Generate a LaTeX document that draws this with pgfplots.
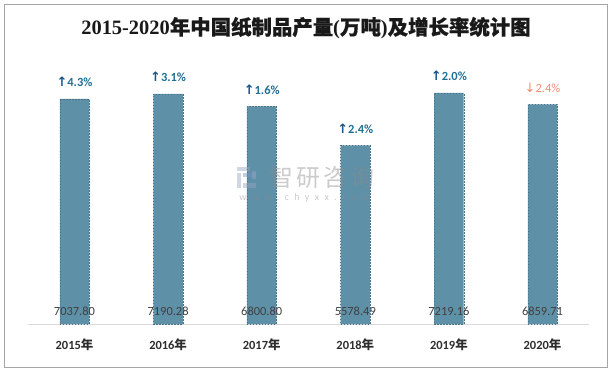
\documentclass[border=0pt]{standalone}
\usepackage{fontspec}
\usepackage{pgfplots}
\pgfplotsset{compat=1.18}
\setmainfont{Carlito}
\newfontfamily\cjk{Noto Sans CJK SC}
\newfontfamily\cjkt{Noto Sans CJK SC}[FakeBold=0.7]
\newfontfamily\serifcn{Liberation Serif}
\newfontfamily\sym{DejaVu Sans}
\definecolor{barc}{RGB}{94,144,167}
\definecolor{upc}{RGB}{31,111,150}
\definecolor{uparrow}{RGB}{25,85,135}
\definecolor{downc}{RGB}{240,140,112}
\definecolor{valc}{RGB}{64,64,64}
\definecolor{tickc}{RGB}{45,45,45}
\definecolor{titlec}{RGB}{25,25,25}
\definecolor{borderc}{RGB}{165,165,165}
\definecolor{basec}{RGB}{217,217,217}
\definecolor{wmA}{RGB}{150,165,190}
\definecolor{wmB}{RGB}{120,150,200}
\definecolor{wmT}{RGB}{140,140,140}
\begin{document}
\begin{tikzpicture}[x=1bp,y=1bp]
\path (0,0) rectangle (612,372);
\draw[draw=borderc, line width=1bp] (4.5,367.5) rectangle (607.5,5);
\node[font=\fontsize{20.5}{22}\selectfont, text=titlec] at (306,344) {\serifcn\bfseries 2015-2020{\cjkt 年中国纸制品产量}({\cjkt 万吨}){\cjkt 及增长率统计图}};
\begin{axis}[
  at={(27.7bp,48bp)}, anchor=south west,
  scale only axis, width=561.6bp, height=256bp,
  xmin=-0.5, xmax=5.5, ymin=0, ymax=8000,
  axis y line=none,
  axis x line*=bottom,
  x axis line style={draw=basec, line width=1bp, -},
  major tick length=0pt,
  xtick=data,
  xticklabels={2015{\cjk 年},2016{\cjk 年},2017{\cjk 年},2018{\cjk 年},2019{\cjk 年},2020{\cjk 年}},
  xticklabel style={anchor=center, yshift=-21bp, font=\fontsize{12.5}{14}\selectfont\bfseries, text=tickc},
  clip=false,
]
\addplot[ybar, bar width=29.5bp, fill=barc, draw=barc!80!black, line width=0.3bp, dash pattern=on 1.5bp off 1.5bp] coordinates {
 (0,7037.80) (1,7190.28) (2,6800.80) (3,5578.49) (4,7219.16) (5,6859.71)};
\addplot[draw=none, mark=none, point meta=explicit symbolic,
  nodes near coords={{\sym\color{uparrow}\fontsize{13}{14}\selectfont ↑}\pgfplotspointmeta\%},
  nodes near coords style={anchor=south, inner sep=0pt, yshift=12bp, font=\fontsize{12.5}{14}\selectfont\bfseries, text=upc}]
 table[meta=g] {
x y g
0 7037.80 4.3
1 7190.28 3.1
2 6800.80 1.6
3 5578.49 2.4
4 7219.16 2.0
};
\addplot[draw=none, mark=none, point meta=explicit symbolic,
  nodes near coords={{\sym\fontsize{13}{14}\selectfont ↓}\pgfplotspointmeta\%},
  nodes near coords style={anchor=south, inner sep=0pt, yshift=12bp, font=\fontsize{12.5}{14}\selectfont, text=downc}]
 table[meta=g] {
x y g
5 6859.71 2.4
};
\addplot[draw=none, mark=none, point meta=explicit symbolic,
  nodes near coords,
  nodes near coords style={anchor=center, inner sep=0pt, yshift=13bp, font=\fontsize{12.5}{14}\selectfont, text=valc}]
 table[meta=v] {
x y v
0 0 7037.80
1 0 7190.28
2 0 6800.80
3 0 5578.49
4 0 7219.16
5 0 6859.71
};
\end{axis}
% watermark
\begin{scope}[opacity=0.45]
\fill[wmA] (237,205) rectangle (250,201);
\fill[wmA] (237,199) rectangle (241,184);
\fill[wmB] (243,199) rectangle (256,195);
\fill[wmA] (243,189) rectangle (256,184);
\fill[wmA] (252,201) rectangle (256,193);
\node[text=wmT, font=\cjk\fontsize{24}{24}\selectfont] at (322,195) {智\hspace{3bp}研\hspace{3bp}咨\hspace{3bp}询};
\node[text=wmT, font=\fontsize{10}{10}\selectfont\addfontfeature{LetterSpace=55}] at (305,174) {www.chyxx.com};
\end{scope}
\end{tikzpicture}
\end{document}
